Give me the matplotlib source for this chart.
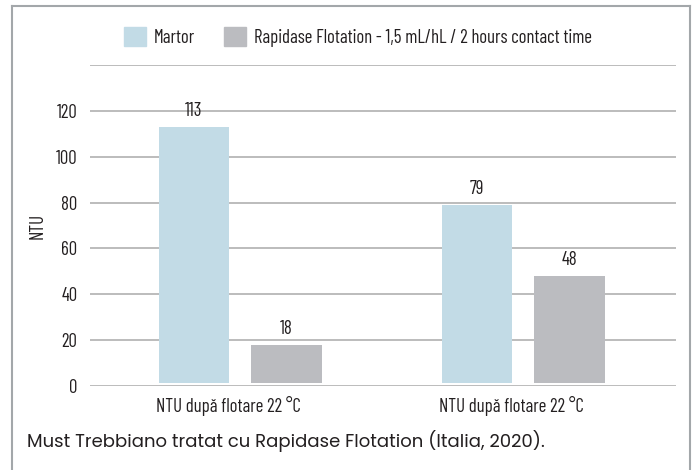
import numpy as np
import matplotlib.pyplot as plt
import matplotlib.transforms as mtransforms
from matplotlib.lines import Line2D
from matplotlib.patches import Patch

categories = ["NTU după flotare 22 °C", "NTU după flotare 22 °C"]
series_names = ["Martor", "Rapidase Flotation - 1,5 mL/hL / 2 hours contact time"]
martor = [113, 79]
rapidase = [18, 48]
yticks = [0, 20, 40, 60, 80, 100, 120]
caption = "Must Trebbiano tratat cu Rapidase Flotation (Italia, 2020)."

c_martor = "#c2dbe6"
c_rapid = "#bbbcc0"
grid_c = "#a9a9a9"
txt_c = "#231f20"
cond = ["Barlow Condensed", "DejaVu Sans"]
fs = 13.5

plt.rcParams['font.family'] = cond
plt.rcParams['font.weight'] = 'normal'

fig = plt.figure(figsize=(6.96, 4.70), dpi=100)
W, H = 696, 470
ax = fig.add_axes([90 / W, 1 - 386 / H, (676 - 90) / W, (386 - 65) / H])

x = np.arange(len(categories))
w = 0.25
off = 0.163
base = 1.5
ax.bar(x - off, np.array(martor) - base, w, bottom=base, color=c_martor, zorder=3)
ax.bar(x + off, np.array(rapidase) - base, w, bottom=base, color=c_rapid, zorder=3)
for xi, v in zip(x - off, martor):
    ax.text(xi, v + 3, str(v), ha='center', va='bottom', fontsize=fs, color=txt_c, zorder=4)
for xi, v in zip(x + off, rapidase):
    ax.text(xi, v + 3, str(v), ha='center', va='bottom', fontsize=fs, color=txt_c, zorder=4)

ax.set_xlim(-0.53, 1.54)
ax.set_ylim(0, 140)
ax.set_yticks(yticks + [140])
ax.set_yticklabels([str(t) for t in yticks] + [""])
ax.set_xticks(x)
ax.set_xticklabels(categories)
ax.tick_params(axis='both', length=0, labelsize=fs, colors=txt_c)
ax.tick_params(axis='y', pad=9)
ax.tick_params(axis='x', pad=7)
# the category labels sit a little left of the bar-pair centres
shift = mtransforms.ScaledTranslation(-12 / 100, 0, fig.dpi_scale_trans)
for lab in ax.get_xticklabels():
    lab.set_transform(lab.get_transform() + shift)
ax.grid(axis='y', color=grid_c, lw=1.1, zorder=0)
for s in ax.spines.values():
    s.set_visible(False)
ax.set_ylabel("NTU", fontsize=fs, color=txt_c, labelpad=7)

handles = [Patch(color=c_martor), Patch(color=c_rapid)]
fig.legend(handles, series_names, loc='center left', bbox_to_anchor=(124 / W, 1 - 37 / H),
           ncol=2, frameon=False, fontsize=13.5, handlelength=1.18, handleheight=1.22,
           columnspacing=1.55, handletextpad=0.4, borderpad=0, borderaxespad=0,
           labelcolor=txt_c)

fig.text(27 / W, 1 - 441 / H, caption, fontsize=13,
         family=["Poppins", "Open Sans", "DejaVu Sans"], fontweight='normal',
         color=txt_c, va='center', ha='left')

# frame around the figure (bottom edge is cut off)
bc = "#a3a7aa"
fig.add_artist(Line2D([12 / W, 690 / W], [1 - 6 / H, 1 - 6 / H], color=bc, lw=1.5))
fig.add_artist(Line2D([12 / W, 12 / W], [1 - 6 / H, 0], color=bc, lw=1.5))
fig.add_artist(Line2D([690 / W, 690 / W], [1 - 6 / H, 0], color=bc, lw=1.5))

fig.savefig("out.png", dpi=100)
